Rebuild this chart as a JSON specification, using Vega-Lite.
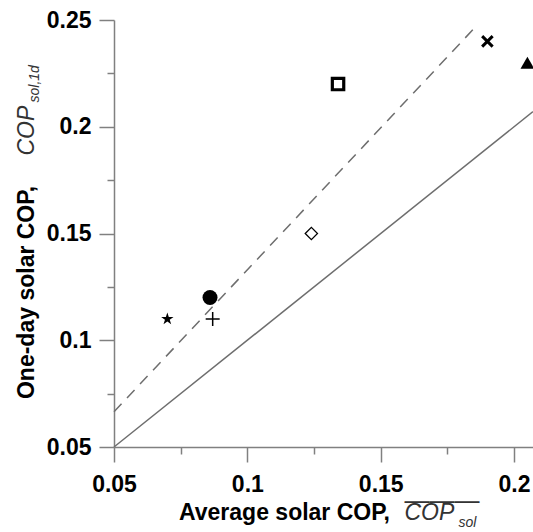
{
  "$schema": "https://vega.github.io/schema/vega-lite/v6.json",
  "width": 419,
  "height": 427,
  "autosize": "none",
  "padding": {"left": 114, "top": 20, "right": 0, "bottom": 85},
  "background": "white",
  "config": {
    "view": {"stroke": null},
    "axis": {"grid": false, "labelFont": "Liberation Sans", "titleFont": "Liberation Sans", "labelColor": "black", "titleColor": "black"}
  },
  "datasets": {
    "identity": [{"x": 0.05, "y": 0.05}, {"x": 0.2071, "y": 0.2071}],
    "dashed": [{"x": 0.05, "y": 0.0665}, {"x": 0.1852, "y": 0.2463}],
    "pts": [
      {"marker": "star", "x": 0.07, "y": 0.11},
      {"marker": "circle", "x": 0.086, "y": 0.12},
      {"marker": "plus", "x": 0.087, "y": 0.11},
      {"marker": "diamond", "x": 0.124, "y": 0.15},
      {"marker": "square", "x": 0.134, "y": 0.22},
      {"marker": "x", "x": 0.19, "y": 0.24},
      {"marker": "triangle", "x": 0.205, "y": 0.23}
    ]
  },
  "resolve": {"axis": {"x": "independent", "y": "independent"}},
  "layer": [
    {
      "data": {"name": "identity"},
      "mark": {"type": "line", "color": "#6e6e6e", "strokeWidth": 1.5},
      "encoding": {
        "x": {"field": "x", "type": "quantitative", "scale": {"domain": [0.05, 0.2071], "nice": false, "zero": false},
          "axis": {"orient": "bottom", "values": [0.05, 0.1, 0.15, 0.2], "format": "~g", "tickSize": 15, "tickWidth": 1.5, "tickColor": "#808080", "domainColor": "#808080", "domainWidth": 1.5,
            "labelFontSize": 23, "labelFontWeight": "bold", "labelPadding": 11, "labelFlush": false,
            "title": "Average solar COP,", "titleFontSize": 23, "titleFontWeight": "bold", "titleX": 170, "titleY": 72, "titleAlign": "center", "titleBaseline": "alphabetic", "titleAnchor": null}},
        "y": {"field": "y", "type": "quantitative", "scale": {"domain": [0.05, 0.25], "nice": false, "zero": false},
          "axis": {"orient": "left", "values": [0.05, 0.1, 0.15, 0.2, 0.25], "format": "~g", "tickSize": 15, "tickWidth": 1.5, "tickColor": "#808080", "domainColor": "#808080", "domainWidth": 1.5,
            "labelFontSize": 23, "labelFontWeight": "bold", "labelPadding": 8, "labelFlush": false,
            "title": "One-day solar COP,", "titleFontSize": 23, "titleFontWeight": "bold", "titleX": -81, "titleY": 272, "titleAngle": -90, "titleAlign": "center", "titleBaseline": "alphabetic", "titleAnchor": null}}
      }
    },
    {
      "data": {"name": "dashed"},
      "mark": {"type": "line", "color": "#6e6e6e", "strokeWidth": 1.5, "strokeDash": [11, 8]},
      "encoding": {
        "x": {"field": "x", "type": "quantitative",
          "axis": {"orient": "bottom", "values": [0.075, 0.125, 0.175], "tickSize": 7, "tickWidth": 1.5, "tickColor": "#808080", "domain": false, "labels": false,
            "title": "COP", "titleFontSize": 23, "titleFontWeight": "normal", "titleFontStyle": "italic", "titleColor": "#333333", "titleX": 290, "titleY": 72, "titleAlign": "left", "titleBaseline": "alphabetic", "titleAnchor": null}},
        "y": {"field": "y", "type": "quantitative",
          "axis": {"orient": "left", "values": [0.075, 0.125, 0.175, 0.225], "tickSize": 7, "tickWidth": 1.5, "tickColor": "#808080", "domain": false, "labels": false,
            "title": "COP", "titleFontSize": 23, "titleFontWeight": "normal", "titleFontStyle": "italic", "titleColor": "#333333", "titleX": -81, "titleY": 135, "titleAngle": -90, "titleAlign": "left", "titleBaseline": "alphabetic", "titleAnchor": null}}
      }
    },
    {
      "data": {"name": "pts"},
      "transform": [{"filter": "datum.marker === 'star'"}],
      "mark": {"type": "point", "shape": "M0,-1L0.2245,-0.309L0.951,-0.309L0.363,0.118L0.588,0.809L0,0.382L-0.588,0.809L-0.363,0.118L-0.951,-0.309L-0.2245,-0.309Z", "filled": true, "color": "black", "opacity": 1, "size": 170},
      "encoding": {
        "x": {"field": "x", "type": "quantitative",
          "axis": {"orient": "bottom", "ticks": false, "labels": false, "domain": false,
            "title": "sol", "titleFontSize": 14, "titleFontWeight": "normal", "titleFontStyle": "italic", "titleColor": "#333333", "titleX": 344, "titleY": 79, "titleAlign": "left", "titleBaseline": "alphabetic", "titleAnchor": null}},
        "y": {"field": "y", "type": "quantitative",
          "axis": {"orient": "left", "ticks": false, "labels": false, "domain": false,
            "title": "sol,1d", "titleFontSize": 14, "titleFontWeight": "normal", "titleFontStyle": "italic", "titleColor": "#333333", "titleX": -76, "titleY": 82, "titleAngle": -90, "titleAlign": "left", "titleBaseline": "alphabetic", "titleAnchor": null}}
      }
    },
    {
      "data": {"name": "pts"},
      "transform": [{"filter": "datum.marker === 'circle'"}],
      "mark": {"type": "point", "shape": "circle", "filled": true, "color": "black", "opacity": 1, "size": 225},
      "encoding": {
        "x": {"field": "x", "type": "quantitative",
          "axis": {"orient": "bottom", "ticks": false, "labels": false, "domain": false,
            "title": "———", "titleFontSize": 25, "titleFontWeight": "normal", "titleColor": "#333333", "titleX": 290, "titleY": 61, "titleAlign": "left", "titleBaseline": "alphabetic", "titleAnchor": null}},
        "y": {"field": "y", "type": "quantitative", "axis": null}
      }
    },
    {
      "data": {"name": "pts"},
      "transform": [{"filter": "datum.marker === 'plus'"}],
      "mark": {"type": "point", "shape": "M-1,0H1M0,-1V1", "filled": false, "color": "black", "strokeWidth": 1.5, "opacity": 1, "size": 196},
      "encoding": {
        "x": {"field": "x", "type": "quantitative", "axis": null},
        "y": {"field": "y", "type": "quantitative", "axis": null}
      }
    },
    {
      "data": {"name": "pts"},
      "transform": [{"filter": "datum.marker === 'diamond'"}],
      "mark": {"type": "point", "shape": "diamond", "filled": false, "color": "black", "fill": "white", "strokeWidth": 1.3, "opacity": 1, "size": 150},
      "encoding": {
        "x": {"field": "x", "type": "quantitative", "axis": null},
        "y": {"field": "y", "type": "quantitative", "axis": null}
      }
    },
    {
      "data": {"name": "pts"},
      "transform": [{"filter": "datum.marker === 'square'"}],
      "mark": {"type": "point", "shape": "square", "filled": false, "color": "black", "fill": "white", "strokeWidth": 3.2, "opacity": 1, "size": 130},
      "encoding": {
        "x": {"field": "x", "type": "quantitative", "axis": null},
        "y": {"field": "y", "type": "quantitative", "axis": null}
      }
    },
    {
      "data": {"name": "pts"},
      "transform": [{"filter": "datum.marker === 'x'"}],
      "mark": {"type": "point", "shape": "M-1,-1L1,1M1,-1L-1,1", "filled": false, "color": "black", "strokeWidth": 3, "opacity": 1, "size": 110},
      "encoding": {
        "x": {"field": "x", "type": "quantitative", "axis": null},
        "y": {"field": "y", "type": "quantitative", "axis": null}
      }
    },
    {
      "data": {"name": "pts"},
      "transform": [{"filter": "datum.marker === 'triangle'"}],
      "mark": {"type": "point", "shape": "triangle-up", "filled": true, "color": "black", "opacity": 1, "size": 190},
      "encoding": {
        "x": {"field": "x", "type": "quantitative", "axis": null},
        "y": {"field": "y", "type": "quantitative", "axis": null}
      }
    }
  ]
}
